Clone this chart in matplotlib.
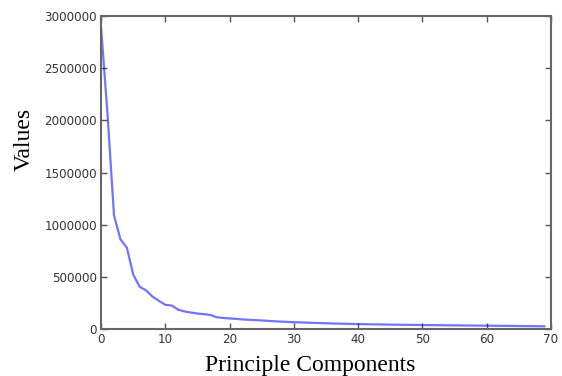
import matplotlib
matplotlib.use("Agg")
import matplotlib.pyplot as plt

components = list(range(70))
values = [
    2880000, 2050000, 1090000, 860000, 780000, 520000, 405000, 370000, 310000, 270000,
    232000, 225000, 185000, 168000, 158000, 148000, 142000, 135000, 112000, 106000,
    101000, 97000, 92000, 88000, 85000, 82000, 78000, 74000, 71000, 68000,
    65000, 63000, 61000, 59000, 57000, 55000, 53000, 51500, 50000, 48500,
    47000, 46000, 45000, 44000, 43000, 42000, 41200, 40400, 39600, 38800,
    38000, 37300, 36600, 36000, 35400, 34800, 34200, 33600, 33000, 32500,
    32000, 31300, 30600, 30000, 29300, 28600, 28000, 27300, 26600, 26000,
]

fig = plt.figure(figsize=(5.62, 3.76), dpi=100)
ax = fig.add_axes([0.18, 0.125, 0.80, 0.832])
ax.plot(components, values, color="blue", alpha=0.55, linewidth=1.6)

ax.set_xlim(0, 70)
ax.set_ylim(0, 3000000)
ax.set_xticks(range(0, 71, 10))
ax.set_yticks(range(0, 3000001, 500000))
ax.ticklabel_format(style="plain", axis="y")

ax.tick_params(direction="in", top=True, right=True, length=4, width=1,
               color="#555555", labelsize=8.6, labelcolor="#333333", pad=3)
for s in ax.spines.values():
    s.set_color("#666666")
    s.set_linewidth(1.5)

# labels sit a bit off-centre in the original
fig.text(0.552, 0.0, "Principle Components", family="Liberation Serif",
         fontsize=17, ha="center", va="bottom")
fig.text(0.043, 0.63, "Values", family="Liberation Serif", fontsize=17,
         rotation=90, ha="center", va="center")

fig.savefig("out.png", dpi=100)
